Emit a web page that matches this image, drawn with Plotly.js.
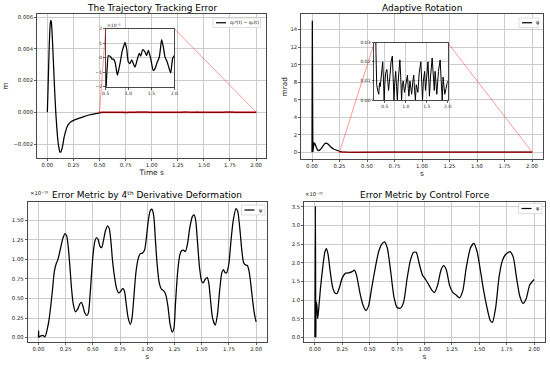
<!DOCTYPE html>
<html><head><meta charset="utf-8">
<script src="https://cdn.plot.ly/plotly-3.0.1.min.js"></script>
<style>html,body{margin:0;padding:0;background:#fff}#chart{width:550px;height:367px}</style>
</head><body><div id="chart"></div>
<script>
// ---------------- DATA ----------------
// Trajectory tracking error (m)
const t1 = [0,0.005,0.01,0.015,0.02,0.025,0.03,0.035,0.04,0.045,
0.05,0.06,0.07,0.08,0.09,0.1,0.11,0.12,0.13,0.14,
0.15,0.16,0.175,0.19,0.21,0.23,0.26,0.3,0.35,0.4,
0.45,0.48,0.5,0.51,0.53,0.558,0.585,0.61,0.64,0.667,
0.704,0.755,0.78,0.813,0.864,0.895,0.922,0.959,0.995,1.03,
1.068,1.104,1.141,1.192,1.235,1.265,1.308,1.359,1.396,1.432,
1.483,1.541,1.578,1.628,1.672,1.7,1.723,1.76,1.796,1.833,
1.869,1.92,1.964,2.0];
const err1 = [0,0.0011,0.0023,0.0035,0.0045,0.0053,0.0057,0.0058,0.0056,0.0051,
0.0044,0.0029,0.0014,0.0001,-0.0009,-0.0017,-0.0022,-0.0025,-0.0025,-0.0023,
-0.002,-0.0016,-0.0012,-0.0009,-0.0007,-0.00058,-0.00048,-0.00038,-0.00027,-0.00017,
-0.0001,-0.00006,-0.00003,-2.0e-5,-0.8e-5,0.15e-5,0.12e-5,0.05e-5,-0.1e-5,-0.1e-5,
-0.3e-5,-1.2e-5,-0.9e-5,-0.4e-5,0.5e-5,0.8e-5,1.05e-5,0.6e-5,-0.3e-5,-0.4e-5,
-0.15e-5,-0.4e-5,-0.65e-5,-0.1e-5,0.3e-5,0.1e-5,0.55e-5,0.4e-5,0.15e-5,0.5e-5,
-0.05e-5,-0.9e-5,-0.75e-5,-0.3e-5,0.05e-5,0.7e-5,1.25e-5,0.75e-5,0.05e-5,-0.2e-5,
-0.55e-5,-1.05e-5,-0.05e-5,0.15e-5];

// Adaptive rotation (mrad)
const t2 = [0,0.003,0.006,0.008,0.012,0.018,0.025,0.032,0.04,0.05,
0.06,0.07,0.085,0.1,0.115,0.125,0.135,0.15,0.165,0.18,
0.2,0.22,0.24,0.25,0.27,0.29,0.307,0.33,0.356,0.375,
0.39,0.41,0.43,0.45,0.47,0.485,0.5,0.52,0.55,0.57,
0.59,0.62,0.65,0.68,0.7,0.72,0.74,0.76,0.78,0.8,
0.82,0.84,0.86,0.88,0.9,0.92,0.94,0.97,1.0,1.04,
1.06,1.075,1.1,1.12,1.14,1.17,1.19,1.21,1.23,1.25,
1.27,1.29,1.32,1.36,1.38,1.4,1.42,1.45,1.47,1.49,
1.53,1.55,1.565,1.59,1.63,1.66,1.68,1.7,1.72,1.74,
1.78,1.82,1.845,1.87,1.89,1.91,1.93,1.96,2.0];
const rot2 = [0,15,4.5,0.05,0.9,1.05,1.0,0.75,0.45,0.25,
0.2,0.25,0.45,0.75,0.98,1.05,1.02,0.88,0.68,0.5,
0.35,0.24,0.16,0.12,0.06,0.025,0.008,0.005,0.003,0.009,
0.007,0.011,0.016,0.02,0.01,0.0,0.008,0.014,0.016,0.009,
0.005,0.012,0.02,0.023,0.012,0.0,0.01,0.015,0.007,0.0,
0.01,0.018,0.021,0.012,0.0,0.008,0.01,0.004,0.009,0.013,
0.006,0.002,0.01,0.007,0.003,0.01,0.013,0.005,0.0,0.008,
0.006,0.004,0.014,0.02,0.01,0.0,0.01,0.015,0.005,0.01,
0.02,0.01,0.002,0.012,0.022,0.012,0.005,0.015,0.01,0.003,
0.015,0.021,0.01,0.0,0.012,0.008,0.003,0.006,0.01];

// Error metric by 4th derivative deformation (x1e-18)
const t3 = [0,0.002,0.006,0.02,0.04,0.06,0.085,0.1,0.115,0.13,
0.147,0.165,0.18,0.2,0.225,0.245,0.26,0.275,0.29,0.305,
0.32,0.34,0.36,0.38,0.395,0.41,0.425,0.445,0.46,0.475,
0.49,0.505,0.52,0.535,0.55,0.565,0.58,0.595,0.615,0.635,
0.65,0.665,0.68,0.7,0.72,0.74,0.76,0.775,0.79,0.805,
0.825,0.845,0.86,0.875,0.895,0.915,0.935,0.955,0.975,0.99,
1.01,1.03,1.045,1.06,1.075,1.09,1.11,1.13,1.15,1.17,
1.19,1.21,1.23,1.245,1.26,1.28,1.3,1.315,1.33,1.35,
1.37,1.39,1.415,1.43,1.445,1.46,1.48,1.5,1.515,1.53,
1.55,1.565,1.58,1.6,1.625,1.645,1.665,1.685,1.7,1.715,
1.73,1.75,1.77,1.79,1.815,1.83,1.85,1.87,1.885,1.9,
1.92,1.935,1.95,1.97,1.985,2.0];
const def3 = [0,0.09,0.01,0.02,0.03,0.01,0.13,0.25,0.42,0.62,
0.85,0.95,1.0,1.12,1.27,1.33,1.3,1.15,0.9,0.62,
0.43,0.33,0.36,0.43,0.45,0.4,0.32,0.28,0.32,0.55,
0.85,1.1,1.24,1.28,1.25,1.17,1.15,1.22,1.36,1.43,
1.4,1.25,1.0,0.77,0.62,0.57,0.6,0.63,0.6,0.45,
0.25,0.17,0.25,0.48,0.82,1.0,1.07,1.08,1.12,1.25,
1.5,1.63,1.64,1.55,1.25,0.95,0.7,0.62,0.6,0.55,
0.4,0.17,0.07,0.12,0.45,0.85,1.06,1.11,1.12,1.1,
1.2,1.4,1.55,1.57,1.5,1.25,0.9,0.72,0.7,0.74,
0.77,0.7,0.5,0.25,0.16,0.3,0.6,0.83,0.87,0.83,
0.83,0.95,1.25,1.5,1.65,1.62,1.4,1.1,0.96,0.93,
0.92,0.85,0.7,0.45,0.3,0.2];

// Error metric by control force (x1e-21)
const t4 = [0,0.004,0.008,0.012,0.018,0.025,0.035,0.05,0.07,0.09,
0.105,0.12,0.14,0.16,0.18,0.2,0.22,0.25,0.28,0.31,
0.34,0.36,0.38,0.41,0.44,0.465,0.49,0.52,0.55,0.58,
0.61,0.635,0.66,0.69,0.72,0.75,0.78,0.81,0.84,0.87,
0.9,0.925,0.95,0.98,1.01,1.04,1.07,1.09,1.12,1.15,
1.175,1.2,1.23,1.26,1.29,1.32,1.35,1.38,1.42,1.45,
1.48,1.51,1.54,1.57,1.6,1.62,1.65,1.68,1.71,1.74,
1.78,1.81,1.84,1.87,1.9,1.93,1.96,2.0];
const force4 = [0,3.52,0,0.95,0.85,0.5,0.78,1.3,1.85,2.28,
2.38,2.22,1.75,1.36,1.2,1.17,1.3,1.6,1.72,1.73,
1.76,1.8,1.66,1.2,0.85,0.72,0.85,1.36,1.85,2.28,
2.5,2.56,2.4,1.8,1.1,0.8,0.78,0.95,1.55,2.05,
2.28,2.28,2.0,1.68,1.55,1.4,1.25,1.2,1.4,1.8,
1.92,1.8,1.38,1.2,1.13,1.06,1.25,1.85,2.4,2.52,
2.3,1.8,1.25,0.8,0.45,0.4,0.8,1.6,2.05,2.22,
2.3,2.15,1.6,1.1,0.91,1.05,1.4,1.55];

// tick values / labels
const xTicksMain = [0,0.25,0.5,0.75,1.0,1.25,1.5,1.75,2.0];
const yTicksTL = [-0.002,0,0.002,0.004,0.006];
const yTicksTR = [0,2,4,6,8,10,12,14];
const yTicksBL = [0,0.25,0.5,0.75,1.0,1.25,1.5];
const yTicksBR = [0,0.5,1.0,1.5,2.0,2.5,3.0,3.5];
const xTicksInset1 = [0.5,1.0,1.5,2.0];
const yTicksInset1 = [-2,-1,0,1,2];
const xTicksInset2 = [0.5,1.0,1.5,2.0];
const yTicksInset2 = [0,0.01,0.02,0.03];
const titles = ['The Trajectory Tracking Error','Adaptive Rotation',
  'Error Metric by 4ᵗʰ Derivative Deformation','Error Metric by Control Force'];
const legendNames = ['q₁ᵈ(t) − q₁(t)','ψ','ψ','ψ'];
const exponents = ['×10⁻⁵','×10⁻¹⁸','×10⁻²¹'];

// ---------------- LAYOUT ----------------
const W = 550, H = 367;
const PX = x => x / W, PY = y => 1 - y / H;
const boxes = {
  tl: {x0:36.9, x1:266.5, y0:14, y1:158.3, xr:[-0.1,2.1], yr:[-0.0029,0.0062]},
  tr: {x0:301, x1:543, y0:14, y1:159.3, xr:[-0.1,2.1], yr:[-0.8,15.78]},
  bl: {x0:27.5, x1:267, y0:202.3, y1:342.3, xr:[-0.1,2.1], yr:[-0.06,1.73]},
  br: {x0:304, x1:545, y0:202.3, y1:342.3, xr:[-0.1,2.1], yr:[-0.134,3.62]},
  in1:{x0:105.7, x1:174.3, y0:28.7, y1:86.7, xr:[0.5,2.0], yr:[-2,2]},
  in2:{x0:374.3, x1:447.7, y0:42.7, y1:100, xr:[0.25,2.0], yr:[0,0.03]}
};
const INK = '#1a1a1a';
function axis(b, dir, anchor, tickvals, fmt, fs) {
  return {
    anchor: anchor,
    domain: dir === 'x' ? [PX(b.x0), PX(b.x1)] : [PY(b.y1), PY(b.y0)],
    range: dir === 'x' ? b.xr : b.yr,
    showgrid: true, gridcolor: '#c6c6c6', gridwidth: 0.9,
    zeroline: false, showline: true, mirror: true, linecolor: INK, linewidth: 0.8,
    ticks: 'outside', ticklen: 2, tickwidth: 0.7, tickcolor: INK,
    tickvals: tickvals, tickformat: fmt,
    tickfont: {size: fs, color: INK}, fixedrange: true
  };
}
function toData(b, pxX, pxY) {
  return [b.xr[0] + (pxX - b.x0) / (b.x1 - b.x0) * (b.xr[1] - b.xr[0]),
          b.yr[1] - (pxY - b.y0) / (b.y1 - b.y0) * (b.yr[1] - b.yr[0])];
}

const lineStyle = {color: '#000', width: 1.25};
const in1x = [], in1y = [];
t1.forEach((t, i) => { if (t >= 0.45) { in1x.push(t); in1y.push(err1[i] * 1e5); } });
const in2x = [], in2y = [];
t2.forEach((t, i) => { if (t >= 0.2) { in2x.push(t); in2y.push(rot2[i]); } });

const traces = [
  {x: t1, y: err1, xaxis: 'x', yaxis: 'y', mode: 'lines', line: Object.assign({shape: 'spline', smoothing: 0.6}, lineStyle), name: legendNames[0], showlegend: false},
  {x: t2, y: rot2, xaxis: 'x2', yaxis: 'y2', mode: 'lines', line: lineStyle, name: legendNames[1], showlegend: false},
  {x: t3, y: def3, xaxis: 'x3', yaxis: 'y3', mode: 'lines', line: Object.assign({shape: 'spline', smoothing: 0.7}, lineStyle), name: legendNames[2], showlegend: false},
  {x: t4, y: force4, xaxis: 'x4', yaxis: 'y4', mode: 'lines', line: Object.assign({shape: 'spline', smoothing: 0.6}, lineStyle), name: legendNames[3], showlegend: false},
  {x: in1x, y: in1y, xaxis: 'x5', yaxis: 'y5', mode: 'lines', line: Object.assign({shape: 'spline', smoothing: 0.6}, lineStyle), showlegend: false},
  {x: in2x, y: in2y, xaxis: 'x6', yaxis: 'y6', mode: 'lines', line: {color: '#000', width: 1.0}, showlegend: false}
];

const fsTick = 5.3, fsInset = 4.5, fsTitle = 9, fsLab = 7.4;
const layout = {
  width: W, height: H, margin: {l: 0, r: 0, t: 0, b: 0},
  paper_bgcolor: '#fff', plot_bgcolor: '#fff',
  font: {family: 'DejaVu Sans', color: INK},
  showlegend: false,
  xaxis: Object.assign(axis(boxes.tl, 'x', 'y', xTicksMain, '.2f', fsTick), {title: {text: 'Time s', font: {size: fsLab}, standoff: 2}}),
  yaxis: Object.assign(axis(boxes.tl, 'y', 'x', yTicksTL, '.3f', fsTick), {title: {text: 'm', font: {size: fsLab}, standoff: 3}}),
  xaxis2: Object.assign(axis(boxes.tr, 'x', 'y2', xTicksMain, '.2f', fsTick), {title: {text: 's', font: {size: fsLab}, standoff: 2}}),
  yaxis2: Object.assign(axis(boxes.tr, 'y', 'x2', yTicksTR, 'd', fsTick), {title: {text: 'mrad', font: {size: fsLab}, standoff: 1}}),
  xaxis3: Object.assign(axis(boxes.bl, 'x', 'y3', xTicksMain, '.2f', fsTick), {title: {text: 's', font: {size: fsLab}, standoff: 2}}),
  yaxis3: axis(boxes.bl, 'y', 'x3', yTicksBL, '.2f', fsTick),
  xaxis4: Object.assign(axis(boxes.br, 'x', 'y4', xTicksMain, '.2f', fsTick), {title: {text: 's', font: {size: fsLab}, standoff: 2}}),
  yaxis4: axis(boxes.br, 'y', 'x4', yTicksBR, '.1f', fsTick),
  xaxis5: axis(boxes.in1, 'x', 'y5', xTicksInset1, '.1f', fsInset),
  yaxis5: axis(boxes.in1, 'y', 'x5', yTicksInset1, 'd', fsInset),
  xaxis6: axis(boxes.in2, 'x', 'y6', xTicksInset2, '.1f', fsInset),
  yaxis6: axis(boxes.in2, 'y', 'x6', yTicksInset2, '.2f', fsInset),
  annotations: [],
  shapes: []
};

// subplot titles
[['tl', 7.5], ['tr', 7.5], ['bl', 194.5], ['br', 194.5]].forEach(([k, y], i) => {
  const b = boxes[k];
  layout.annotations.push({text: titles[i], xref: 'paper', yref: 'paper', x: PX((b.x0 + b.x1) / 2), y: PY(y),
    xanchor: 'center', yanchor: 'middle', showarrow: false, font: {size: fsTitle, color: '#000'}});
});
// exponent labels
layout.annotations.push({text: exponents[0], xref: 'paper', yref: 'paper', x: PX(105.5), y: PY(25.5), xanchor: 'left', yanchor: 'middle', showarrow: false, font: {size: fsInset}});
layout.annotations.push({text: exponents[1], xref: 'paper', yref: 'paper', x: PX(27.5), y: PY(193), xanchor: 'left', yanchor: 'middle', showarrow: false, font: {size: fsTick}});
layout.annotations.push({text: exponents[2], xref: 'paper', yref: 'paper', x: PX(303), y: PY(194), xanchor: 'left', yanchor: 'middle', showarrow: false, font: {size: fsTick}});

// inset indicator rectangles and connectors
const RED = 'rgba(255,0,0,0.5)';
function markInset(mainKey, insetKey, xref, yref, yScale) {
  const m = boxes[mainKey], n = boxes[insetKey];
  layout.shapes.push({type: 'rect', xref: xref, yref: yref, x0: n.xr[0], x1: n.xr[1], y0: n.yr[0] * yScale, y1: n.yr[1] * yScale,
    line: {color: RED, width: 1.3}, layer: 'above'});
  const yTop = n.yr[1] * yScale;
  const cL = toData(m, n.x0, n.y0), cR = toData(m, n.x1, n.y0);
  layout.shapes.push({type: 'line', xref: xref, yref: yref, x0: n.xr[0], y0: yTop, x1: cL[0], y1: cL[1], line: {color: RED, width: 0.8}, layer: 'above'});
  layout.shapes.push({type: 'line', xref: xref, yref: yref, x0: n.xr[1], y0: yTop, x1: cR[0], y1: cR[1], line: {color: RED, width: 0.8}, layer: 'above'});
}
markInset('tl', 'in1', 'x', 'y', 1e-5);
markInset('tr', 'in2', 'x2', 'y2', 1);

// legends (drawn as boxes)
const legendBoxes = [
  {x0: 213, x1: 260.5, y0: 18, y1: 27.5, fs: 4.6},
  {x0: 519, x1: 538.5, y0: 18, y1: 27.5, fs: 5},
  {x0: 241.5, x1: 265, y0: 205, y1: 215, fs: 5},
  {x0: 518.5, x1: 542, y0: 203.5, y1: 213.5, fs: 5}
];
legendBoxes.forEach((lb, i) => {
  const ym = (lb.y0 + lb.y1) / 2;
  layout.shapes.push({type: 'rect', xref: 'paper', yref: 'paper', x0: PX(lb.x0), x1: PX(lb.x1), y0: PY(lb.y1), y1: PY(lb.y0),
    line: {color: '#d0d0d0', width: 0.7}, fillcolor: 'rgba(255,255,255,0.85)', layer: 'above'});
  layout.shapes.push({type: 'line', xref: 'paper', yref: 'paper', x0: PX(lb.x0 + 3), x1: PX(lb.x0 + 13), y0: PY(ym), y1: PY(ym),
    line: {color: '#000', width: 1.2}, layer: 'above'});
  layout.annotations.push({text: legendNames[i], xref: 'paper', yref: 'paper', x: PX(lb.x0 + 15), y: PY(ym), xanchor: 'left', yanchor: 'middle',
    showarrow: false, font: {size: lb.fs, color: '#000'}});
});

Plotly.newPlot('chart', traces, layout, {displayModeBar: false, staticPlot: true});
</script></body></html>
